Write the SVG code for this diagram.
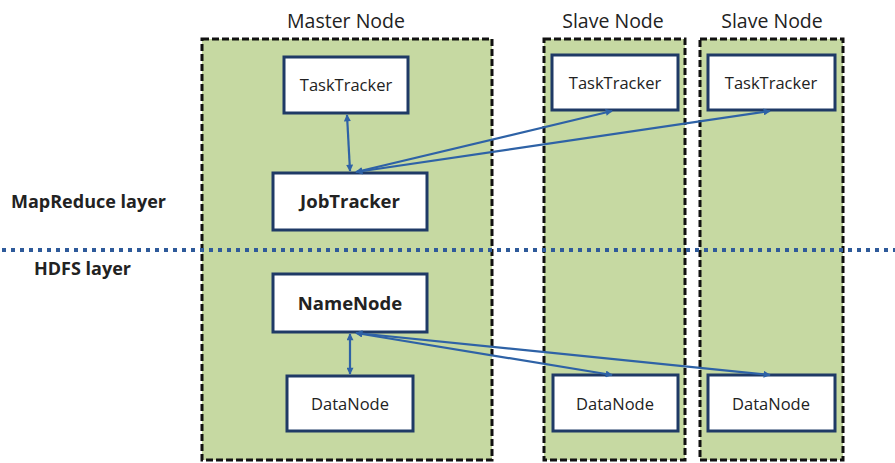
<svg xmlns="http://www.w3.org/2000/svg" width="895" height="463" viewBox="0 0 895 463">
<defs>
<marker id="ah" viewBox="0 0 10 10" refX="9" refY="5" markerWidth="8" markerHeight="7" orient="auto-start-reverse" markerUnits="userSpaceOnUse">
<path d="M0,0 L10,5 L0,10 z" fill="#2e62a6"/>
</marker>
<style>
.cont{fill:#c6d9a2;stroke:#111;stroke-width:3;stroke-dasharray:7 3}
.box{fill:#fff;stroke:#1f3a66;stroke-width:3}
.t{font-family:"Open Sans","Liberation Sans",sans-serif;fill:#222;text-anchor:middle}
.n{font-size:16.5px}
.b{font-size:18.5px;font-weight:bold}
.h{font-size:19.5px}
.lay{font-family:"Open Sans","Liberation Sans",sans-serif;font-size:18px;font-weight:bold;fill:#222}
.c{stroke:#2e62a6;stroke-width:2.2;fill:none;marker-start:url(#ah);marker-end:url(#ah)}
.dot{stroke:#2e5a9a;stroke-width:4;stroke-dasharray:4 5;fill:none}
</style>
</defs>
<g id="headings">
<text class="t h" x="346" y="28">Master Node</text>
<text class="t h" x="613" y="28">Slave Node</text>
<text class="t h" x="772" y="28">Slave Node</text>
</g>
<g id="master-node"><rect class="cont" x="202" y="39" width="290" height="421"/></g>
<g id="slave-node-1"><rect class="cont" x="544" y="39" width="141" height="421"/></g>
<g id="slave-node-2"><rect class="cont" x="700" y="39" width="143" height="421"/></g>
<g id="layer-labels">
<text class="lay" x="11" y="208">MapReduce layer</text>
<text class="lay" x="34" y="275">HDFS layer</text>
</g>
<g id="layer-divider"><line class="dot" x1="2" y1="250" x2="895" y2="250"/></g>
<g id="master-tasktracker"><rect class="box" x="284" y="57" width="124" height="56"/><text class="t n" x="346" y="91">TaskTracker</text></g>
<g id="jobtracker"><rect class="box" x="273" y="173" width="154" height="57"/><text class="t b" x="350" y="208">JobTracker</text></g>
<g id="slave1-tasktracker"><rect class="box" x="552" y="55" width="126" height="55"/><text class="t n" x="615" y="89">TaskTracker</text></g>
<g id="slave2-tasktracker"><rect class="box" x="708" y="55" width="127" height="55"/><text class="t n" x="771" y="89">TaskTracker</text></g>
<g id="namenode"><rect class="box" x="273" y="274" width="154" height="58"/><text class="t b" x="350" y="310">NameNode</text></g>
<g id="master-datanode"><rect class="box" x="287" y="376" width="126" height="55"/><text class="t n" x="350" y="410">DataNode</text></g>
<g id="slave1-datanode"><rect class="box" x="553" y="375" width="125" height="56"/><text class="t n" x="615" y="410">DataNode</text></g>
<g id="slave2-datanode"><rect class="box" x="708" y="375" width="127" height="56"/><text class="t n" x="771" y="410">DataNode</text></g>
<g id="connectors">
<line class="c" x1="347" y1="115" x2="350" y2="171"/>
<line class="c" x1="356" y1="172" x2="612" y2="111"/>
<line class="c" x1="356" y1="172" x2="770" y2="111"/>
<line class="c" x1="350" y1="334" x2="350" y2="374"/>
<line class="c" x1="356" y1="333" x2="612" y2="375"/>
<line class="c" x1="356" y1="333" x2="770" y2="375"/>
</g>
</svg>
